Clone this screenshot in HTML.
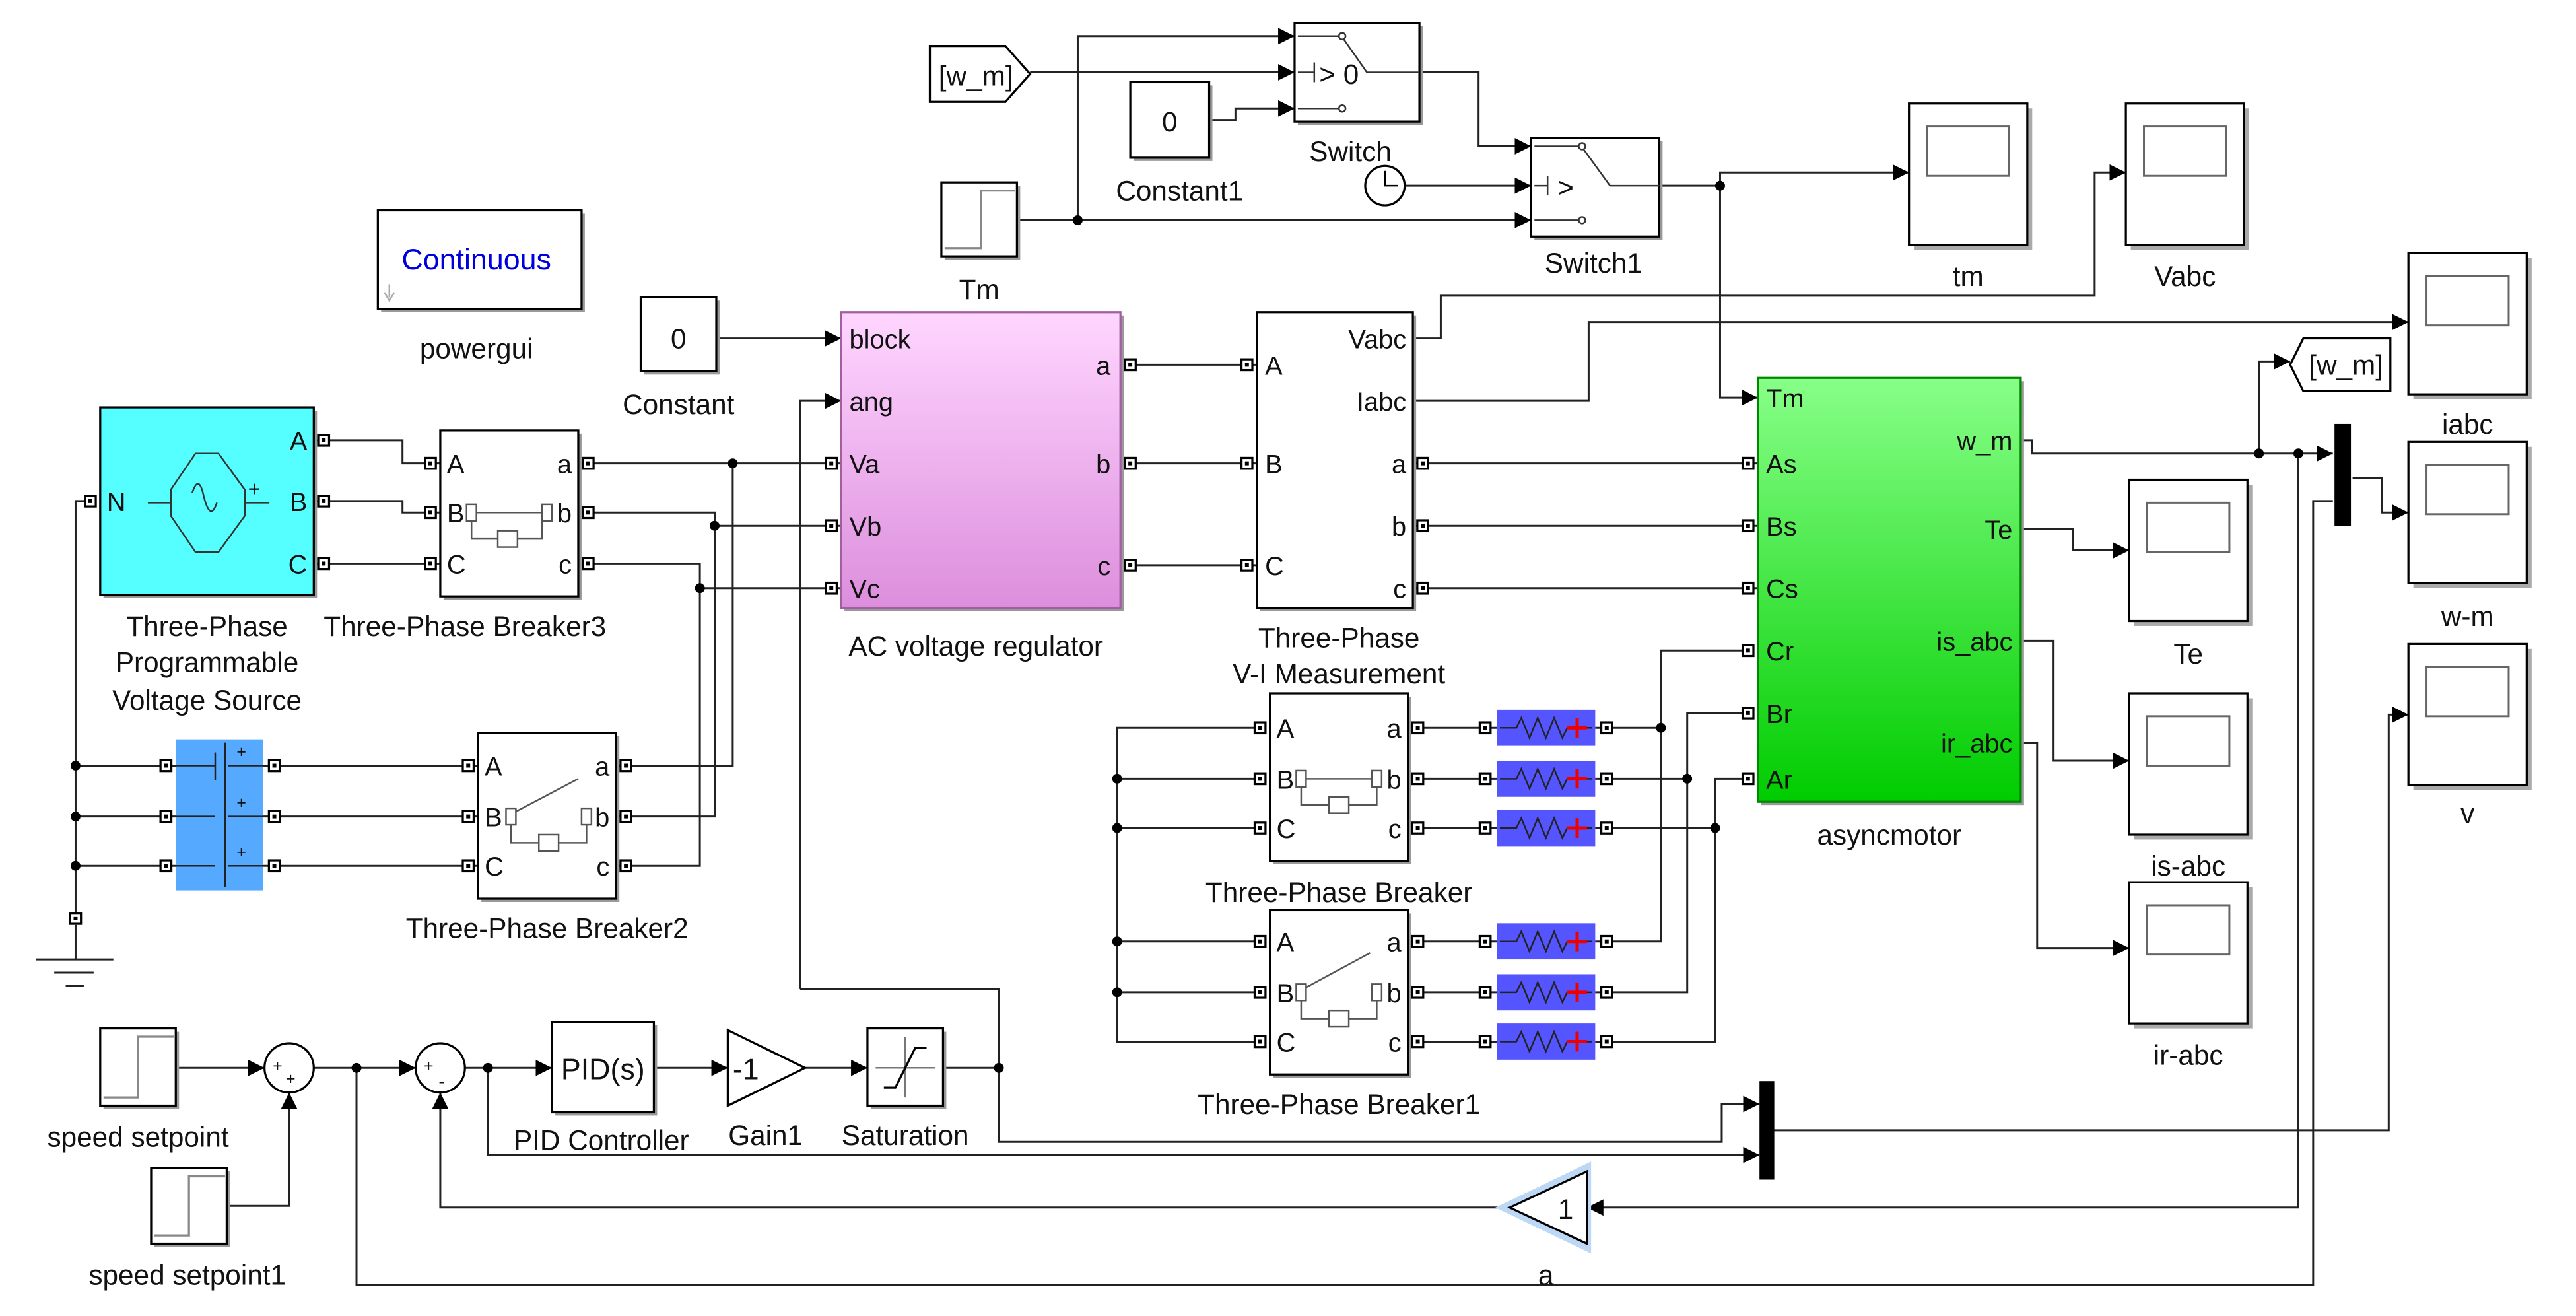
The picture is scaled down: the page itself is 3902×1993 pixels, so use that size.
<!DOCTYPE html>
<html><head><meta charset="utf-8"><style>
html,body{margin:0;padding:0;background:#fff;}
svg{display:block;}
text{font-family:"Liberation Sans",Arial,sans-serif;fill:#111;}
</style></head><body>
<svg width="3902" height="1993" viewBox="0 0 1568 801" preserveAspectRatio="none" xmlns="http://www.w3.org/2000/svg" xmlns:xlink="http://www.w3.org/1999/xlink">
<defs>
<marker id="ar" markerWidth="10" markerHeight="10" refX="10" refY="5" orient="auto" markerUnits="userSpaceOnUse"><path d="M0,0 L10,5 L0,10z" fill="#000"/></marker>
<g id="pt"><rect x="-3.3" y="-3.3" width="6.6" height="6.6" fill="#fff" stroke="#000" stroke-width="1.3"/><rect x="-1.2" y="-1.2" width="2.4" height="2.4" fill="#000"/></g>
<g id="sc"><rect x="3" y="3" width="72" height="86" fill="#aaa"/><rect width="72" height="86" fill="#fff" stroke="#000" stroke-width="1.3"/><rect x="11" y="14" width="50" height="30" fill="#fff" stroke="#666" stroke-width="1.2"/></g>
<g id="res"><rect x="0" y="-11" width="60" height="22" fill="#5555ff"/><path d="M2,0 H12 L15,-6 L20,6 L25,-6 L30,6 L35,-6 L40,6 L43,0 H58" fill="none" stroke="#222" stroke-width="1"/><path d="M49,-6 V6 M43,0 H55" stroke="#e00" stroke-width="2"/></g>
<g id="dot"><circle r="3" fill="#000"/></g>
<linearGradient id="pink" x1="0" y1="0" x2="0" y2="1"><stop offset="0" stop-color="#ffd6ff"/><stop offset="1" stop-color="#dc8edc"/></linearGradient>
<linearGradient id="grn" x1="0" y1="0" x2="0" y2="1"><stop offset="0" stop-color="#88ff88"/><stop offset="1" stop-color="#00cc00"/></linearGradient>
</defs>

<g fill="none" stroke="#222" stroke-width="1.2">
<polyline points="619,134 656,134 656,22 788,22" marker-end="url(#ar)"/>
<polyline points="627,44 788,44" marker-end="url(#ar)"/>
<polyline points="736,73 752,73 752,66 788,66" marker-end="url(#ar)"/>
<polyline points="656,134 932,134" marker-end="url(#ar)"/>
<polyline points="864,44 900,44 900,89 932,89" marker-end="url(#ar)"/>
<polyline points="855,113 932,113" marker-end="url(#ar)"/>
<polyline points="1010,113 1047,113 1047,105 1162,105" marker-end="url(#ar)"/>
<polyline points="1047,113 1047,242 1070,242" marker-end="url(#ar)"/>
<polyline points="436,206 512,206" marker-end="url(#ar)"/>
<polyline points="487,602 487,244 512,244" marker-end="url(#ar)"/>
<polyline points="487,602 608,602 608,650"/>
<line x1="682" y1="222" x2="765" y2="222"/>
<line x1="682" y1="282" x2="765" y2="282"/>
<line x1="682" y1="344" x2="765" y2="344"/>
<polyline points="860,206 877,206 877,180 1275,180 1275,105 1294,105" marker-end="url(#ar)"/>
<polyline points="860,244 967,244 967,196 1466,196" marker-end="url(#ar)"/>
<line x1="860" y1="282" x2="1070" y2="282"/>
<line x1="860" y1="320" x2="1070" y2="320"/>
<line x1="860" y1="358" x2="1070" y2="358"/>
<polyline points="1230,268 1237,268 1237,276 1420,276" marker-end="url(#ar)"/>
<polyline points="1375,276 1375,220 1394,220" marker-end="url(#ar)"/>
<polyline points="1432,291 1450,291 1450,312 1466,312" marker-end="url(#ar)"/>
<polyline points="1230,322 1262,322 1262,335 1296,335" marker-end="url(#ar)"/>
<polyline points="1230,390 1250,390 1250,463 1296,463" marker-end="url(#ar)"/>
<polyline points="1230,452 1240,452 1240,577 1296,577" marker-end="url(#ar)"/>
<polyline points="1399,276 1399,735 966,735" marker-end="url(#ar)"/>
<polyline points="1420,305 1408,305 1408,782 217,782 217,650"/>
<polyline points="1079,688 1454,688 1454,435 1466,435" marker-end="url(#ar)"/>
<polyline points="191,268 245,268 245,282 268,282"/>
<polyline points="191,305 245,305 245,312 268,312"/>
<line x1="191" y1="343" x2="268" y2="343"/>
<line x1="352" y1="282" x2="512" y2="282"/>
<polyline points="352,312 435,312 435,497 375,497"/>
<line x1="435" y1="320" x2="512" y2="320"/>
<polyline points="352,343 426,343 426,527 375,527"/>
<line x1="426" y1="358" x2="512" y2="358"/>
<polyline points="446,282 446,466 375,466"/>
<polyline points="55,305 46,305 46,559"/>
<line x1="46" y1="466" x2="107" y2="466"/><line x1="46" y1="497" x2="107" y2="497"/><line x1="46" y1="527" x2="107" y2="527"/>
<line x1="160" y1="466" x2="291" y2="466"/><line x1="160" y1="497" x2="291" y2="497"/><line x1="160" y1="527" x2="291" y2="527"/>
<line x1="46" y1="563" x2="46" y2="584"/>
<line x1="22" y1="584" x2="69" y2="584"/><line x1="33" y1="592" x2="57" y2="592"/><line x1="40" y1="600" x2="51" y2="600"/>
<polyline points="765,443 680,443 680,634 765,634"/>
<line x1="680" y1="474" x2="765" y2="474"/><line x1="680" y1="504" x2="765" y2="504"/>
<line x1="680" y1="573" x2="765" y2="573"/><line x1="680" y1="604" x2="765" y2="604"/>
<line x1="858" y1="443" x2="911" y2="443"/><line x1="858" y1="474" x2="911" y2="474"/><line x1="858" y1="504" x2="911" y2="504"/>
<line x1="858" y1="573" x2="911" y2="573"/><line x1="858" y1="604" x2="911" y2="604"/><line x1="858" y1="634" x2="911" y2="634"/>
<polyline points="971,443 1011,443"/><polyline points="1064,396 1011,396 1011,573 971,573"/>
<polyline points="971,474 1027,474"/><polyline points="1064,434 1027,434 1027,604 971,604"/>
<polyline points="971,504 1044,504"/><polyline points="1064,474 1044,474 1044,634 971,634"/>
<polyline points="107,650 161,650" marker-end="url(#ar)"/>
<polyline points="138,734 176,734 176,665" marker-end="url(#ar)"/>
<polyline points="191,650 253,650" marker-end="url(#ar)"/>
<polyline points="283,650 336,650" marker-end="url(#ar)"/>
<polyline points="398,650 443,650" marker-end="url(#ar)"/>
<polyline points="490,650 528,650" marker-end="url(#ar)"/>
<line x1="574" y1="650" x2="608" y2="650"/>
<polyline points="916,735 268,735 268,665" marker-end="url(#ar)"/>
<polyline points="608,650 608,695 1048,695 1048,672 1071,672" marker-end="url(#ar)"/>
<polyline points="297,650 297,703 1071,703" marker-end="url(#ar)"/>
</g>

<use xlink:href="#dot" x="656" y="134"/><use xlink:href="#dot" x="1047" y="113"/>
<use xlink:href="#dot" x="1375" y="276"/><use xlink:href="#dot" x="1399" y="276"/>
<use xlink:href="#dot" x="446" y="282"/><use xlink:href="#dot" x="435" y="320"/><use xlink:href="#dot" x="426" y="358"/>
<use xlink:href="#dot" x="46" y="466"/><use xlink:href="#dot" x="46" y="497"/><use xlink:href="#dot" x="46" y="527"/>
<use xlink:href="#dot" x="680" y="474"/><use xlink:href="#dot" x="680" y="504"/><use xlink:href="#dot" x="680" y="573"/><use xlink:href="#dot" x="680" y="604"/>
<use xlink:href="#dot" x="1011" y="443"/><use xlink:href="#dot" x="1027" y="474"/><use xlink:href="#dot" x="1044" y="504"/>
<use xlink:href="#dot" x="217" y="650"/><use xlink:href="#dot" x="297" y="650"/><use xlink:href="#dot" x="608" y="650"/>

<path d="M566,28 H612 L627,45 L612,62 H566z" fill="#fff" stroke="#000" stroke-width="1.3"/>
<text x="594" y="52" font-size="17" text-anchor="middle">[w_m]</text>
<rect x="690" y="52" width="48" height="46" fill="#999"/><rect x="688" y="50" width="48" height="46" fill="#fff" stroke="#000" stroke-width="1.3"/>
<text x="712" y="80" font-size="17" text-anchor="middle">0</text>
<text x="718" y="122" font-size="17" text-anchor="middle">Constant1</text>
<rect x="790" y="16" width="76" height="60" fill="#999"/><rect x="788" y="14" width="76" height="60" fill="#fff" stroke="#000" stroke-width="1.3"/>
<g stroke="#333" fill="none" stroke-width="1"><line x1="790" y1="22" x2="815" y2="22"/><circle cx="817" cy="22" r="2"/><line x1="790" y1="66" x2="815" y2="66"/><circle cx="817" cy="66" r="2"/><line x1="818" y1="24" x2="832" y2="44"/><line x1="832" y1="44" x2="864" y2="44"/><line x1="790" y1="44" x2="800" y2="44"/><line x1="800" y1="38" x2="800" y2="50"/></g>
<text x="803" y="51" font-size="17">&gt; 0</text>
<text x="822" y="98" font-size="17" text-anchor="middle">Switch</text>
<circle cx="843" cy="113" r="12" fill="#fff" stroke="#000" stroke-width="1.3"/><polyline points="843,104 843,113 851,113" fill="none" stroke="#000"/>
<rect x="934" y="86" width="78" height="60" fill="#999"/><rect x="932" y="84" width="78" height="60" fill="#fff" stroke="#000" stroke-width="1.3"/>
<g stroke="#333" fill="none" stroke-width="1"><line x1="934" y1="89" x2="961" y2="89"/><circle cx="963" cy="89" r="2"/><line x1="934" y1="134" x2="961" y2="134"/><circle cx="963" cy="134" r="2"/><line x1="964" y1="91" x2="980" y2="113"/><line x1="980" y1="113" x2="1010" y2="113"/><line x1="934" y1="113" x2="942" y2="113"/><line x1="942" y1="107" x2="942" y2="119"/></g>
<text x="948" y="120" font-size="17">&gt;</text>
<text x="970" y="166" font-size="17" text-anchor="middle">Switch1</text>
<rect x="575" y="113" width="46" height="45" fill="#999"/><rect x="573" y="111" width="46" height="45" fill="#fff" stroke="#000" stroke-width="1.3"/>
<polyline points="575,151 597,151 597,116 618,116" fill="none" stroke="#888" stroke-width="1.3"/>
<text x="596" y="182" font-size="17" text-anchor="middle">Tm</text>
<use xlink:href="#sc" x="1162" y="63"/><text x="1198" y="174" font-size="17" text-anchor="middle">tm</text>
<use xlink:href="#sc" x="1294" y="63"/><text x="1330" y="174" font-size="17" text-anchor="middle">Vabc</text>
<use xlink:href="#sc" x="1466" y="154"/><text x="1502" y="264" font-size="17" text-anchor="middle">iabc</text>
<use xlink:href="#sc" x="1466" y="269"/><text x="1502" y="381" font-size="17" text-anchor="middle">w-m</text>
<use xlink:href="#sc" x="1466" y="392"/><text x="1502" y="501" font-size="17" text-anchor="middle">v</text>
<use xlink:href="#sc" x="1296" y="292"/><text x="1332" y="404" font-size="17" text-anchor="middle">Te</text>
<use xlink:href="#sc" x="1296" y="422"/><text x="1332" y="533" font-size="17" text-anchor="middle">is-abc</text>
<use xlink:href="#sc" x="1296" y="537"/><text x="1332" y="648" font-size="17" text-anchor="middle">ir-abc</text>
<path d="M1394,222 L1402,206 H1455 V238 H1402z" fill="#fff" stroke="#000" stroke-width="1.3"/>
<text x="1428" y="228" font-size="17" text-anchor="middle">[w_m]</text>
<rect x="1421" y="258" width="10" height="62" fill="#000"/>
<rect x="1071" y="658" width="9" height="60" fill="#000"/>
<rect x="232" y="130" width="124" height="60" fill="#999"/><rect x="230" y="128" width="124" height="60" fill="#fff" stroke="#000" stroke-width="1.3"/>
<text x="290" y="164" font-size="18" style="fill:#0000dd" text-anchor="middle">Continuous</text>
<path d="M237,173 V181 M234,178 L237,183 L240,178" stroke="#aaa" fill="none"/>
<text x="290" y="218" font-size="17" text-anchor="middle">powergui</text>
<rect x="392" y="183" width="46" height="45" fill="#999"/><rect x="390" y="181" width="46" height="45" fill="#fff" stroke="#000" stroke-width="1.3"/>
<text x="413" y="212" font-size="17" text-anchor="middle">0</text>
<text x="413" y="252" font-size="17" text-anchor="middle">Constant</text>
<rect x="514" y="192" width="170" height="180" fill="#999"/><rect x="512" y="190" width="170" height="180" fill="url(#pink)" stroke="#a060a0" stroke-width="1.3"/>
<g font-size="16"><text x="517" y="212">block</text><text x="517" y="250">ang</text><text x="517" y="288">Va</text><text x="517" y="326">Vb</text><text x="517" y="364">Vc</text>
<text x="676" y="228" text-anchor="end">a</text><text x="676" y="288" text-anchor="end">b</text><text x="676" y="350" text-anchor="end">c</text></g>
<text x="594" y="399" font-size="17" text-anchor="middle">AC voltage regulator</text>
<rect x="767" y="192" width="95" height="180" fill="#999"/><rect x="765" y="190" width="95" height="180" fill="#fff" stroke="#000" stroke-width="1.3"/>
<g font-size="16"><text x="770" y="228">A</text><text x="770" y="288">B</text><text x="770" y="350">C</text>
<text x="856" y="212" text-anchor="end">Vabc</text><text x="856" y="250" text-anchor="end">Iabc</text><text x="856" y="288" text-anchor="end">a</text><text x="856" y="326" text-anchor="end">b</text><text x="856" y="364" text-anchor="end">c</text></g>
<text x="815" y="394" font-size="17" text-anchor="middle">Three-Phase</text>
<text x="815" y="416" font-size="17" text-anchor="middle">V-I Measurement</text>
<rect x="1072" y="232" width="160" height="258" fill="#999"/><rect x="1070" y="230" width="160" height="258" fill="url(#grn)" stroke="#080" stroke-width="1.3"/>
<g font-size="16"><text x="1075" y="248">Tm</text><text x="1075" y="288">As</text><text x="1075" y="326">Bs</text><text x="1075" y="364">Cs</text><text x="1075" y="402">Cr</text><text x="1075" y="440">Br</text><text x="1075" y="480">Ar</text>
<text x="1225" y="274" text-anchor="end">w_m</text><text x="1225" y="328" text-anchor="end">Te</text><text x="1225" y="396" text-anchor="end">is_abc</text><text x="1225" y="458" text-anchor="end">ir_abc</text></g>
<text x="1150" y="514" font-size="17" text-anchor="middle">asyncmotor</text>
<rect x="63" y="250" width="130" height="114" fill="#999"/><rect x="61" y="248" width="130" height="114" fill="#55ffff" stroke="#000" stroke-width="1.3"/>
<path d="M119,276 H133 L149,298 V314 L133,336 H119 L104,314 V298z" fill="none" stroke="#333"/>
<path d="M90,306 H104 M149,306 H164" stroke="#333"/>
<path d="M117,300 Q121,288 124,302 Q128,318 132,306" fill="none" stroke="#333"/>
<text x="151" y="302" font-size="13">+</text>
<g font-size="16"><text x="65" y="311">N</text><text x="187" y="274" text-anchor="end">A</text><text x="187" y="311" text-anchor="end">B</text><text x="187" y="349" text-anchor="end">C</text></g>
<text x="126" y="387" font-size="17" text-anchor="middle">Three-Phase</text>
<text x="126" y="409" font-size="17" text-anchor="middle">Programmable</text>
<text x="126" y="432" font-size="17" text-anchor="middle">Voltage Source</text>
<rect x="270" y="264" width="84" height="101" fill="#999"/><rect x="268" y="262" width="84" height="101" fill="#fff" stroke="#000" stroke-width="1.3"/>
<g stroke="#555" fill="#fff" stroke-width="1"><rect x="284" y="307" width="6" height="10"/><rect x="330" y="307" width="6" height="10"/><line x1="290" y1="312" x2="330" y2="312"/><polyline points="287,317 287,328 330,328 330,317" fill="none"/><rect x="303" y="323" width="12" height="10"/></g>
<g font-size="16"><text x="272" y="288">A</text><text x="272" y="318">B</text><text x="272" y="349">C</text><text x="348" y="288" text-anchor="end">a</text><text x="348" y="318" text-anchor="end">b</text><text x="348" y="349" text-anchor="end">c</text></g>
<text x="283" y="387" font-size="17" text-anchor="middle">Three-Phase Breaker3</text>
<rect x="107" y="450" width="53" height="92" fill="#55aaff"/>
<g stroke="#222" stroke-width="1"><line x1="107" y1="466" x2="131" y2="466"/><line x1="139" y1="466" x2="160" y2="466"/><line x1="107" y1="497" x2="131" y2="497"/><line x1="139" y1="497" x2="160" y2="497"/><line x1="107" y1="527" x2="131" y2="527"/><line x1="139" y1="527" x2="160" y2="527"/><line x1="131" y1="458" x2="131" y2="475"/><line x1="137" y1="452" x2="137" y2="540"/></g>
<g font-size="10"><text x="144" y="461">+</text><text x="144" y="492">+</text><text x="144" y="522">+</text></g>
<rect x="293" y="448" width="84" height="101" fill="#999"/><rect x="291" y="446" width="84" height="101" fill="#fff" stroke="#000" stroke-width="1.3"/>
<g stroke="#555" fill="#fff" stroke-width="1"><rect x="308" y="492" width="6" height="10"/><rect x="354" y="492" width="6" height="10"/><line x1="314" y1="494" x2="352" y2="474"/><polyline points="311,502 311,513 357,513 357,502" fill="none"/><rect x="328" y="508" width="12" height="10"/></g>
<g font-size="16"><text x="295" y="472">A</text><text x="295" y="503">B</text><text x="295" y="533">C</text><text x="371" y="472" text-anchor="end">a</text><text x="371" y="503" text-anchor="end">b</text><text x="371" y="533" text-anchor="end">c</text></g>
<text x="333" y="571" font-size="17" text-anchor="middle">Three-Phase Breaker2</text>
<rect x="775" y="424" width="84" height="102" fill="#999"/><rect x="773" y="422" width="84" height="102" fill="#fff" stroke="#000" stroke-width="1.3"/>
<g stroke="#555" fill="#fff" stroke-width="1"><rect x="789" y="469" width="6" height="10"/><rect x="835" y="469" width="6" height="10"/><line x1="795" y1="474" x2="835" y2="474"/><polyline points="792,479 792,490 838,490 838,479" fill="none"/><rect x="809" y="485" width="12" height="10"/></g>
<g font-size="16"><text x="777" y="449">A</text><text x="777" y="480">B</text><text x="777" y="510">C</text><text x="853" y="449" text-anchor="end">a</text><text x="853" y="480" text-anchor="end">b</text><text x="853" y="510" text-anchor="end">c</text></g>
<text x="815" y="549" font-size="17" text-anchor="middle">Three-Phase Breaker</text>
<rect x="775" y="556" width="84" height="100" fill="#999"/><rect x="773" y="554" width="84" height="100" fill="#fff" stroke="#000" stroke-width="1.3"/>
<g stroke="#555" fill="#fff" stroke-width="1"><rect x="789" y="599" width="6" height="10"/><rect x="835" y="599" width="6" height="10"/><line x1="795" y1="601" x2="834" y2="580"/><polyline points="792,609 792,620 838,620 838,609" fill="none"/><rect x="809" y="615" width="12" height="10"/></g>
<g font-size="16"><text x="777" y="579">A</text><text x="777" y="610">B</text><text x="777" y="640">C</text><text x="853" y="579" text-anchor="end">a</text><text x="853" y="610" text-anchor="end">b</text><text x="853" y="640" text-anchor="end">c</text></g>
<text x="815" y="678" font-size="17" text-anchor="middle">Three-Phase Breaker1</text>
<use xlink:href="#res" x="911" y="443"/><use xlink:href="#res" x="911" y="474"/><use xlink:href="#res" x="911" y="504"/>
<use xlink:href="#res" x="911" y="573"/><use xlink:href="#res" x="911" y="604"/><use xlink:href="#res" x="911" y="634"/>

<g>
<use xlink:href="#pt" x="197" y="268"/><use xlink:href="#pt" x="197" y="305"/><use xlink:href="#pt" x="197" y="343"/><use xlink:href="#pt" x="55" y="305"/>
<use xlink:href="#pt" x="262" y="282"/><use xlink:href="#pt" x="262" y="312"/><use xlink:href="#pt" x="262" y="343"/>
<use xlink:href="#pt" x="358" y="282"/><use xlink:href="#pt" x="358" y="312"/><use xlink:href="#pt" x="358" y="343"/>
<use xlink:href="#pt" x="506" y="282"/><use xlink:href="#pt" x="506" y="320"/><use xlink:href="#pt" x="506" y="358"/>
<use xlink:href="#pt" x="688" y="222"/><use xlink:href="#pt" x="688" y="282"/><use xlink:href="#pt" x="688" y="344"/>
<use xlink:href="#pt" x="759" y="222"/><use xlink:href="#pt" x="759" y="282"/><use xlink:href="#pt" x="759" y="344"/>
<use xlink:href="#pt" x="866" y="282"/><use xlink:href="#pt" x="866" y="320"/><use xlink:href="#pt" x="866" y="358"/>
<use xlink:href="#pt" x="1064" y="282"/><use xlink:href="#pt" x="1064" y="320"/><use xlink:href="#pt" x="1064" y="358"/>
<use xlink:href="#pt" x="1064" y="396"/><use xlink:href="#pt" x="1064" y="434"/><use xlink:href="#pt" x="1064" y="474"/>
<use xlink:href="#pt" x="101" y="466"/><use xlink:href="#pt" x="101" y="497"/><use xlink:href="#pt" x="101" y="527"/>
<use xlink:href="#pt" x="167" y="466"/><use xlink:href="#pt" x="167" y="497"/><use xlink:href="#pt" x="167" y="527"/>
<use xlink:href="#pt" x="285" y="466"/><use xlink:href="#pt" x="285" y="497"/><use xlink:href="#pt" x="285" y="527"/>
<use xlink:href="#pt" x="381" y="466"/><use xlink:href="#pt" x="381" y="497"/><use xlink:href="#pt" x="381" y="527"/>
<use xlink:href="#pt" x="46" y="559"/>
<use xlink:href="#pt" x="767" y="443"/><use xlink:href="#pt" x="767" y="474"/><use xlink:href="#pt" x="767" y="504"/>
<use xlink:href="#pt" x="767" y="573"/><use xlink:href="#pt" x="767" y="604"/><use xlink:href="#pt" x="767" y="634"/>
<use xlink:href="#pt" x="863" y="443"/><use xlink:href="#pt" x="863" y="474"/><use xlink:href="#pt" x="863" y="504"/>
<use xlink:href="#pt" x="863" y="573"/><use xlink:href="#pt" x="863" y="604"/><use xlink:href="#pt" x="863" y="634"/>
<use xlink:href="#pt" x="904" y="443"/><use xlink:href="#pt" x="904" y="474"/><use xlink:href="#pt" x="904" y="504"/>
<use xlink:href="#pt" x="904" y="573"/><use xlink:href="#pt" x="904" y="604"/><use xlink:href="#pt" x="904" y="634"/>
<use xlink:href="#pt" x="978" y="443"/><use xlink:href="#pt" x="978" y="474"/><use xlink:href="#pt" x="978" y="504"/>
<use xlink:href="#pt" x="978" y="573"/><use xlink:href="#pt" x="978" y="604"/><use xlink:href="#pt" x="978" y="634"/>
</g>

<rect x="63" y="628" width="46" height="47" fill="#999"/><rect x="61" y="626" width="46" height="47" fill="#fff" stroke="#000" stroke-width="1.3"/>
<polyline points="63,668 84,668 84,631 106,631" fill="none" stroke="#888" stroke-width="1.3"/>
<text x="84" y="698" font-size="17" text-anchor="middle">speed setpoint</text>
<rect x="94" y="713" width="46" height="46" fill="#999"/><rect x="92" y="711" width="46" height="46" fill="#fff" stroke="#000" stroke-width="1.3"/>
<polyline points="94,752 115,752 115,716 137,716" fill="none" stroke="#888" stroke-width="1.3"/>
<text x="114" y="782" font-size="17" text-anchor="middle">speed setpoint1</text>
<circle cx="176" cy="650" r="15" fill="#fff" stroke="#000" stroke-width="1.3"/>
<text x="166" y="652" font-size="10">+</text><text x="174" y="660" font-size="10">+</text>
<circle cx="268" cy="650" r="15" fill="#fff" stroke="#000" stroke-width="1.3"/>
<text x="258" y="652" font-size="10">+</text><text x="267" y="662" font-size="11">-</text>
<rect x="338" y="624" width="62" height="55" fill="#999"/><rect x="336" y="622" width="62" height="55" fill="#fff" stroke="#000" stroke-width="1.3"/>
<text x="367" y="657" font-size="18" text-anchor="middle">PID(s)</text>
<text x="366" y="700" font-size="17" text-anchor="middle">PID Controller</text>
<path d="M443,627 L490,650 L443,673z" fill="#fff" stroke="#000" stroke-width="1.3"/>
<text x="446" y="657" font-size="18">-1</text>
<text x="466" y="697" font-size="17" text-anchor="middle">Gain1</text>
<rect x="530" y="628" width="46" height="47" fill="#999"/><rect x="528" y="626" width="46" height="47" fill="#fff" stroke="#000" stroke-width="1.3"/>
<g stroke="#777" stroke-width="1"><line x1="533" y1="650" x2="569" y2="650"/><line x1="551" y1="631" x2="551" y2="668"/></g>
<polyline points="538,662 545,662 557,638 564,638" fill="none" stroke="#000" stroke-width="1.3"/>
<text x="551" y="697" font-size="17" text-anchor="middle">Saturation</text>
<path d="M966,711 L966,759 L916,735z" fill="none" stroke="#bcd8f4" stroke-width="5"/>
<path d="M966,713 L966,757 L919,735z" fill="#fff" stroke="#000" stroke-width="1.3"/>
<text x="953" y="742" font-size="17" text-anchor="middle">1</text>
<text x="941" y="782" font-size="17" text-anchor="middle">a</text>
</svg>
</body></html>
